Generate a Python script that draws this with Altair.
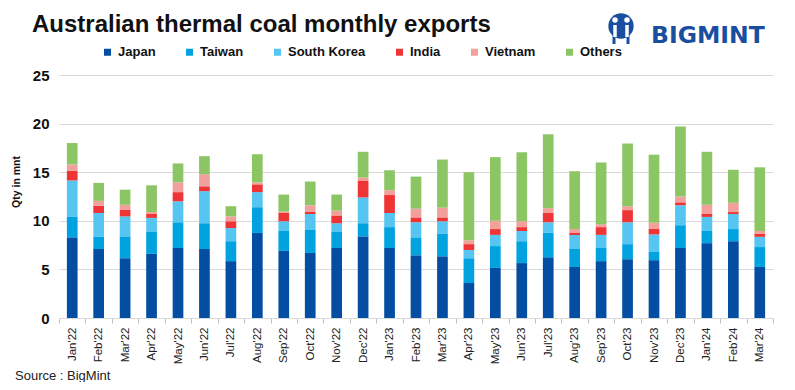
import altair as alt
import pandas as pd

months = ["Jan'22", "Feb'22", "Mar'22", "Apr'22", "May'22", "Jun'22", "Jul'22", "Aug'22",
          "Sep'22", "Oct'22", "Nov'22", "Dec'22", "Jan'23", "Feb'23", "Mar'23", "Apr'23",
          "May'23", "Jun'23", "Jul'23", "Aug'23", "Sep'23", "Oct'23", "Nov'23", "Dec'23",
          "Jan'24", "Feb'24", "Mar'24"]

japan = [8.3, 7.1, 6.15, 6.6, 7.2, 7.1, 5.85, 8.75, 6.9, 6.7, 7.2, 8.4, 7.2, 6.45, 6.35, 3.6,
         5.15, 5.65, 6.25, 5.25, 5.85, 6.05, 5.95, 7.2, 7.7, 7.9, 5.25]
taiwan = [2.15, 1.25, 2.25, 2.25, 2.65, 2.65, 2.05, 2.65, 2.05, 2.35, 1.65, 1.35, 2.15, 1.85, 2.35, 2.55,
          2.25, 2.25, 2.55, 1.85, 1.35, 1.55, 0.9, 2.35, 1.25, 1.25, 2.05]
south_korea = [3.7, 2.45, 2.05, 1.45, 2.15, 3.3, 1.35, 1.55, 1.0, 1.65, 0.9, 2.65, 1.45, 1.55, 1.25, 0.85,
               1.15, 1.05, 1.05, 1.45, 1.35, 2.25, 1.75, 2.05, 1.45, 1.55, 1.05]
india = [1.0, 0.75, 0.7, 0.4, 0.95, 0.5, 0.7, 0.8, 0.9, 0.2, 0.8, 1.75, 1.85, 0.5, 0.4, 0.6,
         0.6, 0.4, 0.95, 0.2, 0.8, 1.25, 0.6, 0.3, 0.3, 0.2, 0.3]
vietnam = [0.65, 0.5, 0.5, 0.2, 1.0, 1.25, 0.5, 0.2, 0.1, 0.7, 0.5, 0.3, 0.5, 0.9, 1.0, 0.4,
           0.85, 0.6, 0.5, 0.4, 0.3, 0.4, 0.6, 0.6, 0.95, 0.95, 0.3]
others = [2.2, 1.85, 1.55, 2.75, 1.95, 1.85, 1.05, 2.9, 1.75, 2.45, 1.65, 2.65, 2.05, 3.3, 4.95, 7.0,
          6.55, 7.1, 7.6, 5.95, 6.35, 6.45, 7.0, 7.2, 5.45, 3.4, 6.55]

series_names = ["Japan", "Taiwan", "South Korea", "India", "Vietnam", "Others"]
series_values = [japan, taiwan, south_korea, india, vietnam, others]
colors = ["#034EA2", "#00A3E0", "#56C5F2", "#EE3435", "#F1A09B", "#8CC563"]
y_ticks = [0, 5, 10, 15, 20, 25]

rows = []
for k, (name, vals) in enumerate(zip(series_names, series_values)):
    for m, v in zip(months, vals):
        rows.append({"Month": m, "Country": name, "Qty": v, "order": k})
df = pd.DataFrame(rows)

W, H = 714, 243

bars = alt.Chart(df).mark_bar(size=10.7).encode(
    x=alt.X("Month:N", sort=months, title=None,
            scale=alt.Scale(paddingInner=0, paddingOuter=0),
            axis=alt.Axis(labelAngle=-90, labelFontSize=11.5, labelFont="Liberation Sans",
                          labelColor="#222222", tickBand="extent", tickSize=5,
                          tickColor="#BFBFBF", domainColor="#D9D9D9", labelPadding=4,
                          labelBaseline="middle", labelAlign="right")),
    y=alt.Y("Qty:Q", stack="zero", title=None,
            scale=alt.Scale(domain=[0, 25], nice=False),
            axis=alt.Axis(values=y_ticks, labelFontSize=15, labelFontWeight="bold",
                          labelFont="Liberation Sans", labelColor="#111111",
                          domain=False, ticks=False, labelPadding=10,
                          gridColor="#D9D9D9", gridWidth=1)),
    color=alt.Color("Country:N", sort=series_names,
                    scale=alt.Scale(domain=series_names, range=colors),
                    legend=alt.Legend(title=None, orient="none", direction="horizontal",
                                      legendX=42, legendY=-29.5, symbolType="square",
                                      symbolSize=49, symbolStrokeWidth=0,
                                      labelFontSize=13, labelFontWeight="bold",
                                      labelFont="Liberation Sans", labelColor="#111111",
                                      columnPadding=27, labelOffset=4, padding=0)),
    order=alt.Order("order:Q", sort="ascending"),
)

one = pd.DataFrame({"a": [0]})


def txt(text, x, y, size, weight="normal", color="#111111", font="Liberation Sans",
        align="left", baseline="alphabetic", angle=0):
    kw = dict(fontSize=size, fontWeight=weight, color=color, font=font,
              align=align, baseline=baseline)
    if angle:
        kw["angle"] = angle
    return alt.Chart(one).mark_text(**kw).encode(
        x=alt.value(x), y=alt.value(y), text=alt.value(text))


def dot(x, y, size, color):
    return alt.Chart(one).mark_point(filled=True, shape="circle", size=size,
                                     color=color, opacity=1).encode(
        x=alt.value(x), y=alt.value(y))


def stroke(x, y, y2, width, color):
    return alt.Chart(one).mark_rule(color=color, strokeWidth=width).encode(
        x=alt.value(x), y=alt.value(y), y2=alt.value(y2))


title = txt("Australian thermal coal monthly exports", -27, -43.5, 24, weight="bold")
source = txt("Source : BigMint", -44, 305, 13, color="#222222")
ytitle = txt("Qty in mnt", -42, 107, 10.5, weight="bold", align="center",
             baseline="middle", angle=270)
brand = txt("BIGMINT", 592, -32.5, 23.5, weight="bold", color="#1A4FA0", font="DejaVu Sans")

logo_blue = "#1A4FA0"
logo = [
    dot(562, -49, 640, logo_blue),
    stroke(555, -46, -31, 3, logo_blue),
    stroke(569, -46, -31, 3, logo_blue),
    dot(556, -55, 30, "white"),
    dot(568, -55, 30, "white"),
    stroke(556, -50, -38, 3.5, "white"),
    stroke(568, -50, -38, 3.5, "white"),
]

chart = alt.layer(bars, title, source, ytitle, brand, *logo).properties(
    width=W, height=H,
    autosize=alt.AutoSizeParams(type="none"),
    padding={"left": 51, "top": 67, "right": 14, "bottom": 64},
).configure_view(stroke=None)

chart.save("out.html", embed_options={"renderer": "svg", "actions": False})
